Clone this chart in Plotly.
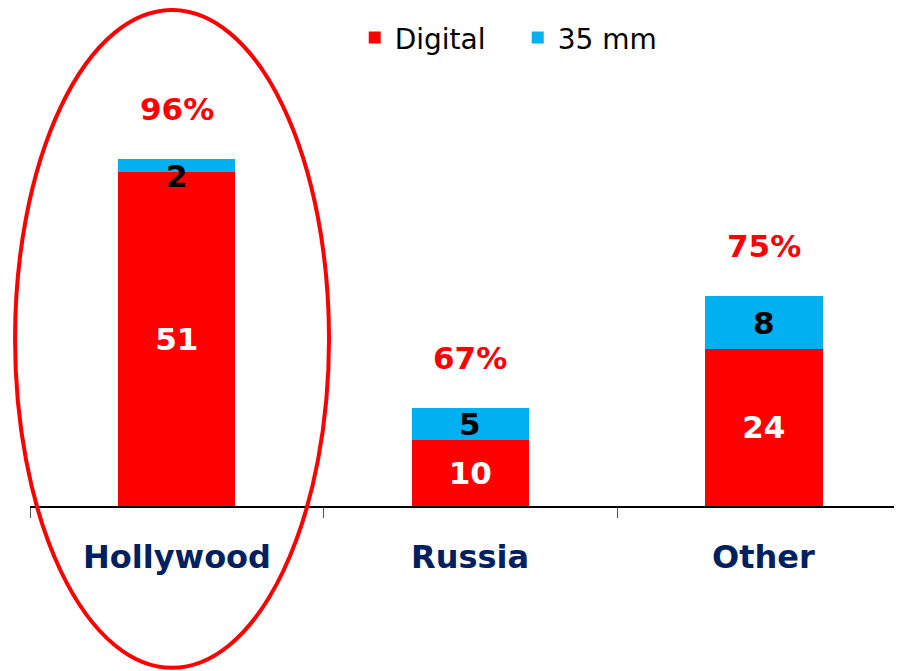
import plotly.graph_objects as go

# Données
categories = ["Hollywood", "Russia", "Other"]
digital = [51, 10, 24]
mm35 = [2, 5, 8]

RED = "#FF0000"
BLUE = "#00B0F0"
NAVY = "#002060"
FONT = "Verdana, DejaVu Sans, sans-serif"

fig = go.Figure()

fig.add_trace(go.Bar(
    x=categories, y=digital, name="Digital",
    marker=dict(color=RED, line=dict(width=0)),
    text=[str(v) for v in digital],
    textposition="inside", insidetextanchor="middle", constraintext="none",
    textfont=dict(family=FONT, size=31, color="white", weight="bold"),
    width=0.4,
))
fig.add_trace(go.Bar(
    x=categories, y=mm35, name="35 mm",
    marker=dict(color=BLUE, line=dict(width=0)),
    width=0.4,
))

annotations = []
for cat, d, m in zip(categories, digital, mm35):
    total = d + m
    # valeur 35 mm
    annotations.append(dict(
        x=cat, y=d + m / 2, text=f"<b>{m}</b>", showarrow=False,
        yshift=-11 if m < 3 else 0,
        font=dict(family=FONT, size=31, color="black"),
    ))
    # part du numérique
    annotations.append(dict(
        x=cat, y=total, text=f"<b>{round(d / total * 100)}%</b>", showarrow=False,
        yanchor="middle", yshift=50,
        font=dict(family=FONT, size=31, color=RED),
    ))
    # libellé de catégorie
    annotations.append(dict(
        x=cat, y=0, text=f"<b>{cat}</b>", showarrow=False,
        yanchor="middle", yshift=-51,
        font=dict(family=FONT, size=32, color=NAVY),
    ))

fig.update_layout(
    barmode="stack",
    width=902, height=671,
    margin=dict(l=22, r=0, t=0, b=173),
    plot_bgcolor="white", paper_bgcolor="white",
    showlegend=True,
    legend=dict(
        orientation="h", x=0.369, y=0.94, xanchor="left", yanchor="middle",
        font=dict(family=FONT, size=28, color="black"),
        entrywidth=118, entrywidthmode="pixels",
        traceorder="normal", bgcolor="rgba(0,0,0,0)",
    ),
    xaxis=dict(
        type="category", range=[-0.5, 2.498],
        tickson="boundaries", ticks="outside", ticklen=10, tickcolor="#555",
        showticklabels=False, showline=True, linecolor="black", linewidth=1.5,
        showgrid=False, zeroline=False,
    ),
    yaxis=dict(range=[0, 76.0], visible=False, showgrid=False),
    annotations=annotations,
    shapes=[dict(
        type="circle", xref="paper", yref="paper",
        x0=-0.017, x1=0.3398, y0=-0.325, y1=0.996,
        line=dict(color=RED, width=4),
    )],
)

fig.write_html("out.html")
